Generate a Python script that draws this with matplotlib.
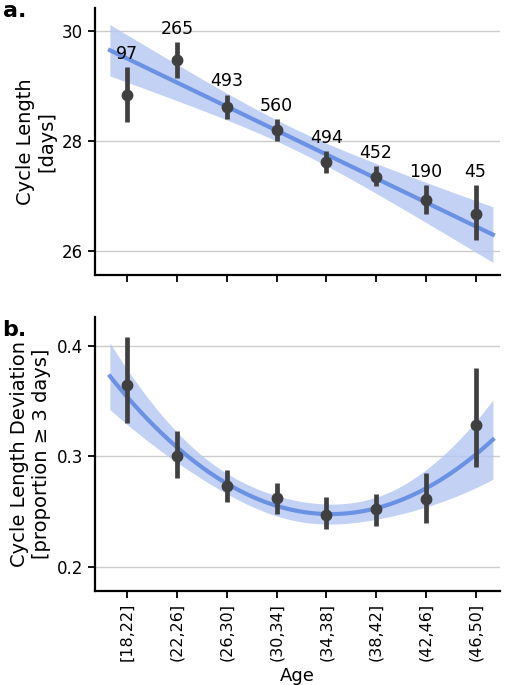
import numpy as np
import matplotlib
matplotlib.use("Agg")
import matplotlib.pyplot as plt

cats = ["[18,22]","(22,26]","(26,30]","(30,34]","(34,38]","(38,42]","(42,46]","(46,50]"]
counts = [97, 265, 493, 560, 494, 452, 190, 45]
cl_mean = [28.85, 29.47, 28.62, 28.20, 27.62, 27.35, 26.93, 26.68]
cl_lo = [28.35, 29.15, 28.40, 28.00, 27.42, 27.18, 26.68, 26.20]
cl_hi = [29.35, 29.80, 28.85, 28.40, 27.82, 27.55, 27.20, 27.20]
dv_mean = [0.365, 0.300, 0.273, 0.262, 0.247, 0.252, 0.261, 0.328]
dv_lo = [0.330, 0.280, 0.259, 0.248, 0.234, 0.237, 0.240, 0.290]
dv_hi = [0.408, 0.323, 0.288, 0.276, 0.263, 0.266, 0.285, 0.380]

x = np.arange(len(cats))
xs = np.linspace(-0.35, 7.35, 200)
blue = "#5b86e0"
band = "#b3c6f2"
dark = "#404040"

def fit(y, deg, mult):
    w = np.sqrt(np.array(counts, float))
    X = np.vander(x, deg + 1)
    Xw = X * w[:, None]
    yw = np.array(y) * w
    coef, *_ = np.linalg.lstsq(Xw, yw, rcond=None)
    res = yw - Xw @ coef
    s2 = (res ** 2).sum() / (len(y) - deg - 1)
    cov = s2 * np.linalg.inv(Xw.T @ Xw)
    Xs = np.vander(xs, deg + 1)
    yh = Xs @ coef
    se = np.sqrt(np.einsum("ij,jk,ik->i", Xs, cov, Xs))
    return yh, se * mult

fig = plt.figure(figsize=(5.08, 6.85), dpi=100)
ax1 = fig.add_axes([0.187, 0.598, 0.798, 0.39])
ax2 = fig.add_axes([0.187, 0.137, 0.798, 0.4])

for ax, m, lo, hi, deg in [(ax1, cl_mean, cl_lo, cl_hi, 1), (ax2, dv_mean, dv_lo, dv_hi, 2)]:
    yh, w = fit(m, deg, 2.4)
    ax.fill_between(xs, yh - w, yh + w, color=band, alpha=0.8, lw=0, zorder=1)
    ax.plot(xs, yh, color=blue, lw=3, alpha=0.85, zorder=2)
    ax.vlines(x, lo, hi, color=dark, lw=3.4, zorder=3)
    ax.plot(x, m, "o", color=dark, ms=7.5, zorder=4)
    ax.set_xlim(-0.65, 7.5)
    ax.set_xticks(x)
    ax.grid(axis="y", color="#cccccc", lw=1)
    ax.set_axisbelow(True)
    for sp in ["top", "right"]:
        ax.spines[sp].set_visible(False)
    for sp in ["left", "bottom"]:
        ax.spines[sp].set_linewidth(1.6)
    ax.tick_params(labelsize=12, width=1.3, length=5)

for i in x:
    ax1.text(i, cl_hi[i] + 0.08, str(counts[i]), ha="center", va="bottom", fontsize=12.5)
ax1.set_ylim(25.56, 30.42)
ax1.set_yticks([26, 28, 30])
ax1.set_xticklabels([])
ax1.set_ylabel("Cycle Length\n[days]", fontsize=14)

ax2.set_ylim(0.178, 0.426)
ax2.set_yticks([0.2, 0.3, 0.4])
ax2.set_yticklabels(["0.2", "0.3", "0.4"])
ax2.set_xticklabels(cats, rotation=90, fontsize=11.5)
ax2.set_xlabel("Age", fontsize=13, labelpad=4)
ax2.set_ylabel("Cycle Length Deviation\n[proportion ≥ 3 days]", fontsize=14)

fig.text(0.005, 0.975, "a.", fontsize=16, fontweight="bold")
fig.text(0.005, 0.51, "b.", fontsize=16, fontweight="bold")

fig.savefig("out.png", dpi=100)
